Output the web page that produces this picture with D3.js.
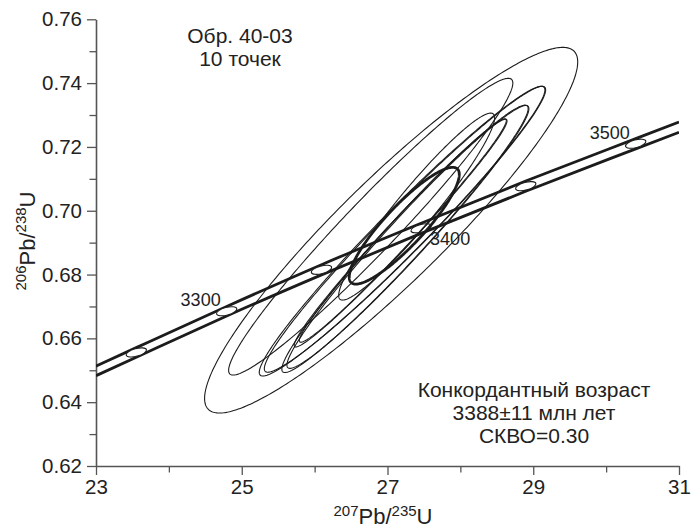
<!DOCTYPE html>
<html>
<head>
<meta charset="utf-8">
<script src="https://cdn.jsdelivr.net/npm/d3@7/dist/d3.min.js"></script>
<style>
  html, body { margin: 0; padding: 0; background: #fff; }
  svg { display: block; }
  text { font-family: "Liberation Sans", Arial, Helvetica, sans-serif; fill: #222; }
</style>
</head>
<body>
<svg id="chart" width="692" height="528"></svg>
<script>
// ---------- data ----------
const xDomain = [23, 31];
const yDomain = [0.62, 0.76];
const xMajorTicks = [23, 25, 27, 29, 31];
const xMinorTicks = [24, 26, 28, 30];
const yMajorTicks = [0.62, 0.64, 0.66, 0.68, 0.70, 0.72, 0.74, 0.76];
const yMinorTicks = [0.63, 0.65, 0.67, 0.69, 0.71, 0.73, 0.75];

// concordia band
const concX     = [23.0,   23.553, 24.793, 26.094, 27.461, 28.897, 30.406, 31.0];
const concUpper = [0.6513, 0.6571, 0.6700, 0.6831, 0.6961, 0.7093, 0.7226, 0.7278];
const concLower = [0.6483, 0.6541, 0.6670, 0.6799, 0.6929, 0.7061, 0.7194, 0.7246];

// age markers on concordia
const markerAges = [3250, 3300, 3350, 3400, 3450, 3500];
const markerX    = [23.553, 24.793, 26.094, 27.461, 28.897, 30.406];
const markerY    = [0.6556, 0.6685, 0.6815, 0.6945, 0.7077, 0.7210];
const labelledAges = [3300, 3400, 3500];

// analysis ellipses: centre, half-extent in x and y, correlation
const ellCx  = [27.05,  26.77,  27.20,  27.24,  27.18,  27.40,  27.23,  27.28,  27.24,  27.21];
const ellCy  = [0.6939, 0.6950, 0.6936, 0.6912, 0.6930, 0.7013, 0.6953, 0.6918, 0.6942, 0.6938];
const ellA   = [2.56,   1.95,   1.96,   1.69,   1.46,   1.07,   0.755,  1.66,   1.93,   1.42];
const ellB   = [0.0573, 0.0465, 0.0454, 0.0419, 0.0357, 0.0293, 0.0183, 0.0412, 0.0448, 0.0350];
const ellRho = [0.92,   0.968,  0.975,  0.975,  0.985,  0.95,   0.88,   0.975,  0.975,  0.985];
const ellBold = [false, false, false, false, false, false, true, false, false, false];

const sampleText = ["Обр. 40-03", "10 точек"];
const resultText = ["Конкордантный возраст", "3388±11 млн лет", "СКВО=0.30"];

// ---------- layout ----------
const svg = d3.select("#chart");
const L = 96, R = 679, T = 19.3, B = 466;
const x = d3.scaleLinear().domain(xDomain).range([L, R]);
const y = d3.scaleLinear().domain(yDomain).range([B, T]);
const axisColor = "#555";
const ink = "#1c1c1c";

svg.append("defs").append("clipPath").attr("id", "plot")
  .append("rect").attr("x", L).attr("y", T).attr("width", R - L).attr("height", B - T);

// ---------- axes ----------
function styleAxis(g) {
  g.select(".domain").attr("stroke", axisColor).attr("stroke-width", 1.6);
  g.selectAll(".tick line").attr("stroke", axisColor).attr("stroke-width", 1.3);
  g.selectAll(".tick text").attr("font-size", "20.5px").attr("fill", "#222")
    .attr("font-family", '"Liberation Sans", Arial, sans-serif');
}
const gx = svg.append("g").attr("transform", `translate(0,${B})`)
  .call(d3.axisBottom(x).tickValues(xMajorTicks).tickFormat(d3.format("d"))
    .tickSize(9).tickSizeOuter(0).tickPadding(4));
styleAxis(gx);
const gxm = svg.append("g").attr("transform", `translate(0,${B})`)
  .call(d3.axisBottom(x).tickValues(xMinorTicks).tickFormat("").tickSize(6.5).tickSizeOuter(0));
styleAxis(gxm); gxm.select(".domain").remove();

const gy = svg.append("g").attr("transform", `translate(${L},0)`)
  .call(d3.axisLeft(y).tickValues(yMajorTicks).tickFormat(d3.format(".2f"))
    .tickSize(9).tickSizeOuter(0).tickPadding(5));
styleAxis(gy);
const gym = svg.append("g").attr("transform", `translate(${L},0)`)
  .call(d3.axisLeft(y).tickValues(yMinorTicks).tickFormat("").tickSize(6.5).tickSizeOuter(0));
styleAxis(gym); gym.select(".domain").remove();

// axis titles
function isoTitle(sel, parts) {
  parts.forEach(p => {
    sel.append("tspan").attr("font-size", p.sup ? "15px" : "22px")
      .attr("dy", p.dy).text(p.t);
  });
}
const xt = svg.append("text").attr("x", 383).attr("y", 524).attr("text-anchor", "middle");
isoTitle(xt, [{t: "207", sup: true, dy: -8}, {t: "Pb/", dy: 8}, {t: "235", sup: true, dy: -8}, {t: "U", dy: 8}]);
const yt = svg.append("text").attr("transform", "translate(35,241) rotate(-90)").attr("text-anchor", "middle");
isoTitle(yt, [{t: "206", sup: true, dy: -9}, {t: "Pb/", dy: 9}, {t: "238", sup: true, dy: -9}, {t: "U", dy: 9}]);

// ---------- concordia ----------
const plot = svg.append("g").attr("clip-path", "url(#plot)");
const cline = d3.line().curve(d3.curveMonotoneX);
[concUpper, concLower].forEach(arr => {
  plot.append("path")
    .attr("d", cline(concX.map((v, i) => [x(v), y(arr[i])])))
    .attr("fill", "none").attr("stroke", ink).attr("stroke-width", 2.8);
});
markerAges.forEach((age, i) => {
  const cx = x(markerX[i]), cy = y(markerY[i]);
  plot.append("ellipse").attr("cx", cx).attr("cy", cy).attr("rx", 10.5).attr("ry", 3.8)
    .attr("transform", `rotate(-15,${cx},${cy})`)
    .attr("fill", "#fff").attr("stroke", ink).attr("stroke-width", 1.1);
});

// ---------- analysis ellipses ----------
const eline = d3.line();
ellCx.forEach((cx0, k) => {
  const pts = [];
  const s = Math.sqrt(1 - ellRho[k] * ellRho[k]);
  for (let i = 0; i <= 360; i++) {
    const t = 2 * Math.PI * i / 360;
    const dx = ellA[k] * Math.cos(t);
    const dy = ellB[k] * (ellRho[k] * Math.cos(t) + s * Math.sin(t));
    pts.push([x(cx0 + dx), y(ellCy[k] + dy)]);
  }
  plot.append("path").attr("d", eline(pts) + "Z")
    .attr("fill", "none").attr("stroke", ink)
    .attr("stroke-width", ellBold[k] ? 2.8 : 1.1);
});

// ---------- age labels ----------
labelledAges.forEach(age => {
  const i = markerAges.indexOf(age);
  const cx = x(markerX[i]), cy = y(markerY[i]);
  const below = age === 3400;
  svg.append("text").attr("font-size", "18px")
    .attr("x", below ? cx + 9 : cx - 6)
    .attr("y", below ? cy + 17 : cy - 5)
    .attr("text-anchor", below ? "start" : "end")
    .text(age);
});

// ---------- annotations ----------
sampleText.forEach((t, i) => {
  svg.append("text").attr("x", 240).attr("y", 43 + i * 23)
    .attr("text-anchor", "middle").attr("font-size", "21px").text(t);
});
resultText.forEach((t, i) => {
  svg.append("text").attr("x", 534).attr("y", 397 + i * 23)
    .attr("text-anchor", "middle").attr("font-size", "21px").text(t);
});
</script>
</body>
</html>
